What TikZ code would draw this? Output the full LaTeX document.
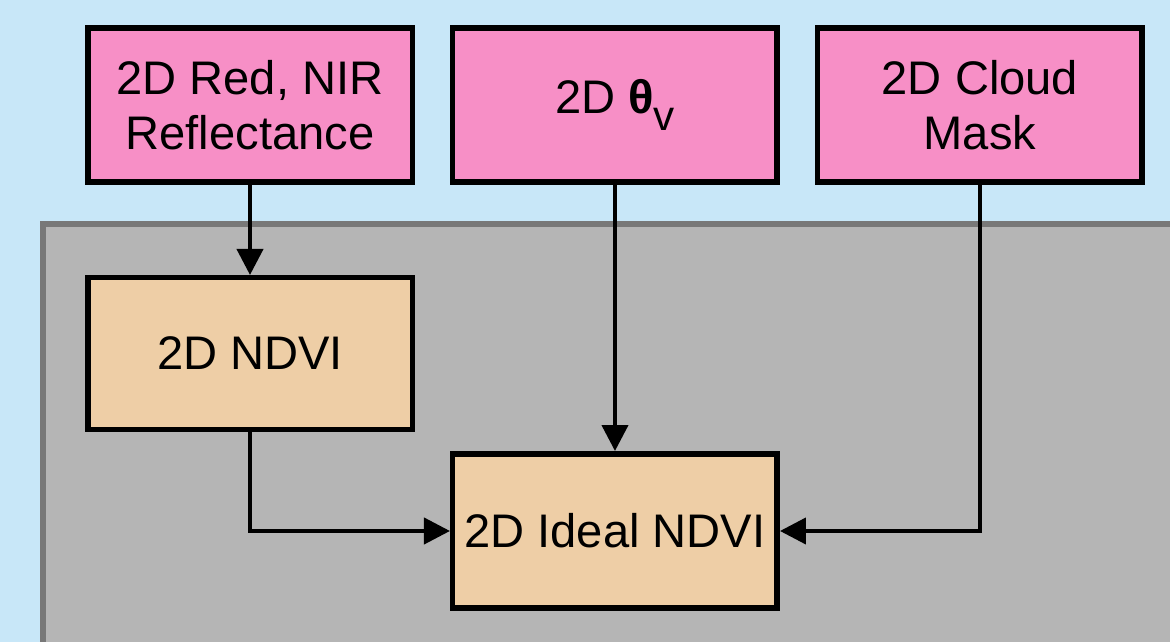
\documentclass[tikz,border=0pt]{standalone}
\usepackage{fontspec}
\setmainfont{Liberation Sans}
\usetikzlibrary{arrows.meta,positioning}
\definecolor{skyblue}{HTML}{C8E7F8}
\definecolor{inpink}{HTML}{F78FC6}
\definecolor{prodtan}{HTML}{EECEA6}
\definecolor{panelgray}{HTML}{B5B5B5}
\definecolor{paneledge}{HTML}{787878}
\tikzstyle{input} = [rectangle,
                    align = center,
                    draw=black,
                    fill=inpink,
                    line width=3.9pt,
                    inner sep=0pt,
                    minimum width=8.11cm,
                    minimum height=3.86cm,
                    font=\fontsize{33.5}{39}\selectfont]
\tikzstyle{product} = [input, fill=prodtan]

\begin{document}
\begin{tikzpicture}[x=0.025cm, y=-0.025cm,
                      node distance=2.25cm and 0.875cm,
                      >={Triangle[length=0.65cm,width=0.65cm]},
                      line width=2.9pt]
    % page and grey processing panel
    \fill[skyblue] (0,0) rectangle (1170,642);
    \clip (0,0) rectangle (1170,642);
    \draw[paneledge, fill=panelgray, line width=4.25pt] (43,224) rectangle (1220,700);
    \node (0) [input] at (250,105) {2D Red, NIR\\Reflectance};
    \node (1) [input, right =of 0] {2D \textbf{θ}\raisebox{-0.36em}{\fontsize{30}{30}\selectfont v}};
    \node (2) [input, right =of 1] {2D Cloud\\Mask};
    \node (3) [below =of 0] [product, minimum height=3.79cm] {2D NDVI};
    \node (4) [below =6.65cm of 1] [product] {2D Ideal NDVI};
    \path[->]
      (0) edge (3)
      (1) edge (4);
    \draw[->] (3) |- (4);
    \draw[->] (2) |- (4);
  \end{tikzpicture}
\end{document}
